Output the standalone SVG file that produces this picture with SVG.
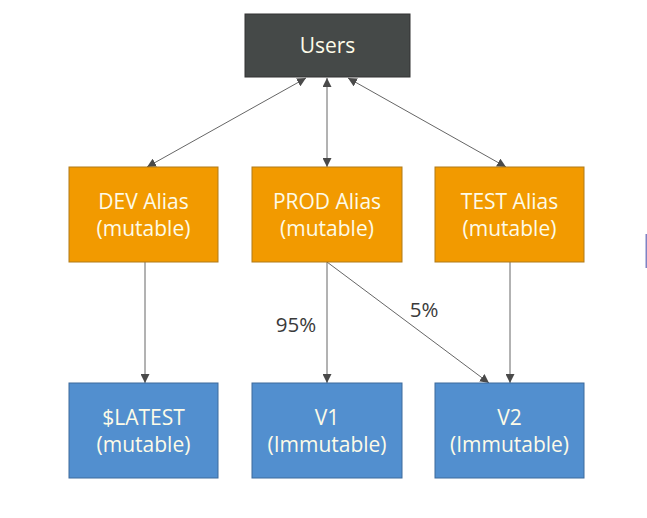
<svg xmlns="http://www.w3.org/2000/svg" width="647" height="518" viewBox="0 0 647 518">
<style>
.t{font-family:"Open Sans","Noto Sans",sans-serif;font-size:21px;text-anchor:middle;fill:#fdfbe8}
.u{fill:#454948;stroke:#333;stroke-width:1}
.o{fill:#f29a00;stroke:#b07a18;stroke-width:1}
.b{fill:#528fcf;stroke:#3c6a9c;stroke-width:1}
.c{stroke:#666;stroke-width:1;fill:none}
.l{font-family:"Open Sans","Noto Sans",sans-serif;font-size:20.5px;fill:#3a3a3a}
</style>
<defs>
<marker id="ah" viewBox="0 0 10 10" refX="10" refY="5" markerWidth="9" markerHeight="9" markerUnits="userSpaceOnUse" orient="auto-start-reverse">
<path d="M0,0 L10,5 L0,10 z" fill="#4a4a4a"/>
</marker>
</defs>
<rect width="647" height="518" fill="#fff"/>
<g id="connectors">
<line class="c" x1="306" y1="78" x2="147" y2="167" marker-start="url(#ah)" marker-end="url(#ah)"/>
<line class="c" x1="327" y1="78" x2="327" y2="167" marker-start="url(#ah)" marker-end="url(#ah)"/>
<line class="c" x1="348" y1="78" x2="506" y2="167" marker-start="url(#ah)" marker-end="url(#ah)"/>
<line class="c" x1="145" y1="262" x2="145" y2="383" marker-end="url(#ah)"/>
<line class="c" x1="327" y1="262" x2="327" y2="383" marker-end="url(#ah)"/>
<line class="c" x1="327" y1="262" x2="489" y2="383" marker-end="url(#ah)"/>
<line class="c" x1="510" y1="262" x2="510" y2="383" marker-end="url(#ah)"/>
<text class="l" x="296" y="332" text-anchor="middle">95%</text>
<text class="l" x="424" y="317" text-anchor="middle">5%</text>
</g>
<g id="users"><rect class="u" x="245" y="14" width="165" height="63"/><text class="t" x="327.5" y="53">Users</text></g>
<g id="dev"><rect class="o" x="69" y="167" width="149" height="95"/><text class="t" x="143.5" y="209">DEV Alias</text><text class="t" x="143.5" y="236">(mutable)</text></g>
<g id="prod"><rect class="o" x="252" y="167" width="150" height="95"/><text class="t" x="327" y="209">PROD Alias</text><text class="t" x="327" y="236">(mutable)</text></g>
<g id="test"><rect class="o" x="435" y="167" width="149" height="95"/><text class="t" x="509.5" y="209">TEST Alias</text><text class="t" x="509.5" y="236">(mutable)</text></g>
<g id="latest"><rect class="b" x="69" y="383" width="149" height="95"/><text class="t" x="143.5" y="425">$LATEST</text><text class="t" x="143.5" y="452">(mutable)</text></g>
<g id="v1"><rect class="b" x="252" y="383" width="150" height="95"/><text class="t" x="327" y="425">V1</text><text class="t" x="327" y="452">(Immutable)</text></g>
<g id="v2"><rect class="b" x="435" y="383" width="149" height="95"/><text class="t" x="509.5" y="425">V2</text><text class="t" x="509.5" y="452">(Immutable)</text></g>
<rect x="645.5" y="234" width="1.5" height="34" fill="#7f83c4"/>
</svg>
